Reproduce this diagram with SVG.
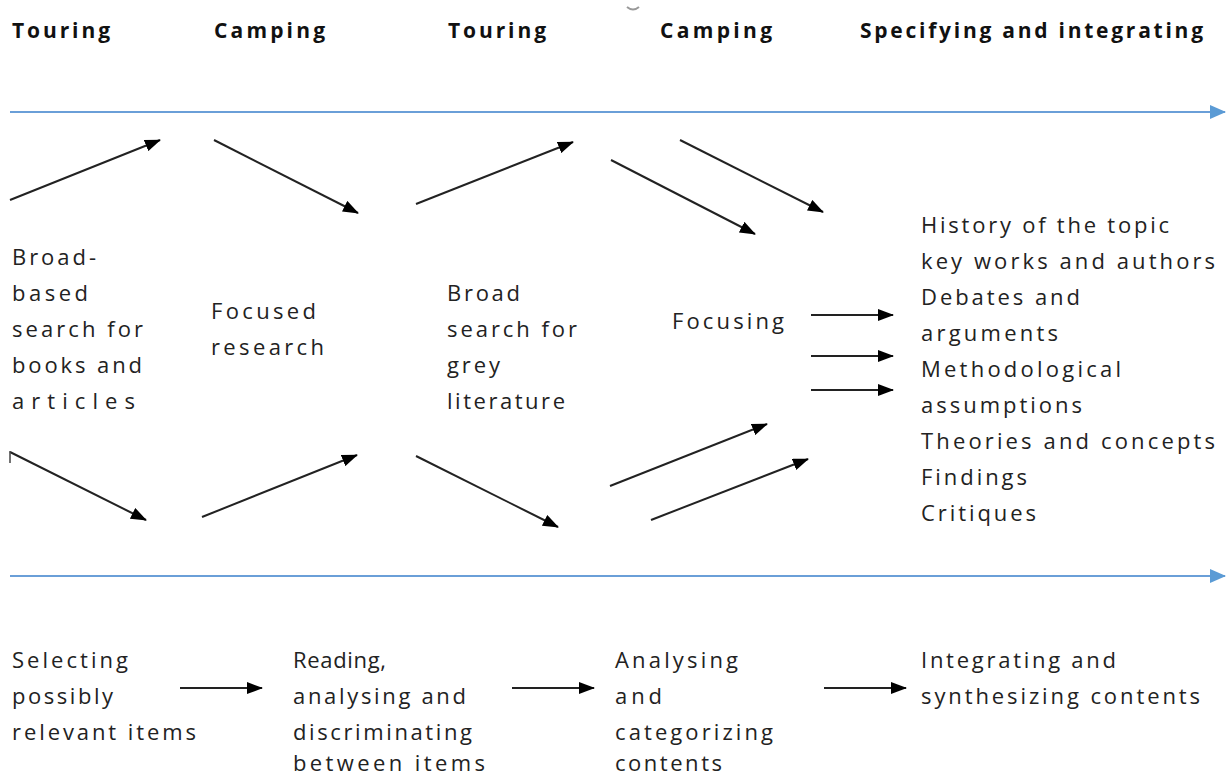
<svg xmlns="http://www.w3.org/2000/svg" width="1227" height="778" viewBox="0 0 1227 778">
<style>
.h{font-family:"Open Sans","Liberation Sans",Arial,sans-serif;font-weight:bold;font-size:21px;fill:#111}
.t{font-family:"Open Sans","Liberation Sans",Arial,sans-serif;font-size:22px;fill:#222}
.a{stroke:#222;stroke-width:2;fill:none;marker-end:url(#ah)}
.b{stroke:#6a9fd8;stroke-width:2;fill:none;marker-end:url(#bh)}
</style>
<defs>
<marker id="ah" markerUnits="userSpaceOnUse" markerWidth="16" markerHeight="12" refX="15" refY="6" orient="auto"><path d="M0,0 L16,6 L0,12 Z" fill="#000"/></marker>
<marker id="bh" markerUnits="userSpaceOnUse" markerWidth="16" markerHeight="14" refX="15" refY="7" orient="auto"><path d="M0,0 L16,7 L0,14 Z" fill="#5b9bd5"/></marker>
</defs>
<rect width="1227" height="778" fill="#fff"/>
<g id="headers">
<text class="h" x="12" y="38" textLength="98" lengthAdjust="spacing">Touring</text>
<text class="h" x="214" y="38" textLength="111" lengthAdjust="spacing">Camping</text>
<text class="h" x="448" y="38" textLength="98" lengthAdjust="spacing">Touring</text>
<text class="h" x="660" y="38" textLength="112" lengthAdjust="spacing">Camping</text>
<text class="h" x="860" y="38" textLength="343" lengthAdjust="spacing">Specifying and integrating</text>
<path d="M627,7 Q633,12 639,7" stroke="#999" stroke-width="2" fill="none"/>
</g>
<g id="connectors">
<line class="b" x1="10" y1="112" x2="1225" y2="112"/>
<line class="b" x1="10" y1="576" x2="1225" y2="576"/>
<line class="a" x1="10" y1="200" x2="160" y2="140"/>
<line class="a" x1="214" y1="140" x2="358" y2="213"/>
<line class="a" x1="416" y1="204" x2="573" y2="142"/>
<line class="a" x1="611" y1="160" x2="755" y2="234"/>
<line class="a" x1="680" y1="140" x2="823" y2="212"/>
<line class="a" x1="10" y1="452" x2="146" y2="520"/>
<line x1="10" y1="451" x2="10" y2="463" stroke="#444" stroke-width="1.5"/>
<line class="a" x1="202" y1="517" x2="357" y2="455"/>
<line class="a" x1="416" y1="456" x2="558" y2="527"/>
<line class="a" x1="610" y1="486" x2="767" y2="424"/>
<line class="a" x1="651" y1="520" x2="808" y2="459"/>
<line class="a" x1="811" y1="315" x2="893" y2="315"/>
<line class="a" x1="811" y1="356" x2="893" y2="356"/>
<line class="a" x1="811" y1="390" x2="893" y2="390"/>
<line class="a" x1="180" y1="688" x2="262" y2="688"/>
<line class="a" x1="512" y1="688" x2="594" y2="688"/>
<line class="a" x1="824" y1="688" x2="906" y2="688"/>
</g>
<g id="node-broad-based">
<text class="t" x="12" y="265" textLength="84" lengthAdjust="spacing">Broad-</text>
<text class="t" x="12" y="301" textLength="76" lengthAdjust="spacing">based</text>
<text class="t" x="12" y="337" textLength="131" lengthAdjust="spacing">search for</text>
<text class="t" x="12" y="373" textLength="130" lengthAdjust="spacing">books and</text>
<text class="t" x="12" y="409" textLength="123" lengthAdjust="spacing">articles</text>
</g>
<g id="node-focused">
<text class="t" x="211" y="319" textLength="105" lengthAdjust="spacing">Focused</text>
<text class="t" x="211" y="355" textLength="113" lengthAdjust="spacing">research</text>
</g>
<g id="node-broad-grey">
<text class="t" x="447" y="301" textLength="73" lengthAdjust="spacing">Broad</text>
<text class="t" x="447" y="337" textLength="130" lengthAdjust="spacing">search for</text>
<text class="t" x="447" y="373" textLength="53" lengthAdjust="spacing">grey</text>
<text class="t" x="447" y="409" textLength="118" lengthAdjust="spacing">literature</text>
</g>
<g id="node-focusing">
<text class="t" x="672" y="329" textLength="112" lengthAdjust="spacing">Focusing</text>
</g>
<g id="node-outcomes">
<text class="t" x="921" y="233" textLength="248" lengthAdjust="spacing">History of the topic</text>
<text class="t" x="921" y="269" textLength="294" lengthAdjust="spacing">key works and authors</text>
<text class="t" x="921" y="305" textLength="159" lengthAdjust="spacing">Debates and</text>
<text class="t" x="921" y="341" textLength="137" lengthAdjust="spacing">arguments</text>
<text class="t" x="921" y="377" textLength="200" lengthAdjust="spacing">Methodological</text>
<text class="t" x="921" y="413" textLength="161" lengthAdjust="spacing">assumptions</text>
<text class="t" x="921" y="449" textLength="294" lengthAdjust="spacing">Theories and concepts</text>
<text class="t" x="921" y="485" textLength="106" lengthAdjust="spacing">Findings</text>
<text class="t" x="921" y="521" textLength="115" lengthAdjust="spacing">Critiques</text>
</g>
<g id="node-selecting">
<text class="t" x="12" y="668" textLength="116" lengthAdjust="spacing">Selecting</text>
<text class="t" x="12" y="704" textLength="101" lengthAdjust="spacing">possibly</text>
<text class="t" x="12" y="740" textLength="184" lengthAdjust="spacing">relevant items</text>
</g>
<g id="node-reading">
<text class="t" x="293" y="668" textLength="93" lengthAdjust="spacing">Reading,</text>
<text class="t" x="293" y="704" textLength="173" lengthAdjust="spacing">analysing and</text>
<text class="t" x="293" y="740" textLength="179" lengthAdjust="spacing">discriminating</text>
<text class="t" x="293" y="771" textLength="192" lengthAdjust="spacing">between items</text>
</g>
<g id="node-analysing">
<text class="t" x="615" y="668" textLength="123" lengthAdjust="spacing">Analysing</text>
<text class="t" x="615" y="704" textLength="47" lengthAdjust="spacing">and</text>
<text class="t" x="615" y="740" textLength="158" lengthAdjust="spacing">categorizing</text>
<text class="t" x="615" y="771" textLength="107" lengthAdjust="spacing">contents</text>
</g>
<g id="node-integrating">
<text class="t" x="921" y="668" textLength="195" lengthAdjust="spacing">Integrating and</text>
<text class="t" x="921" y="704" textLength="279" lengthAdjust="spacing">synthesizing contents</text>
</g>
</svg>
